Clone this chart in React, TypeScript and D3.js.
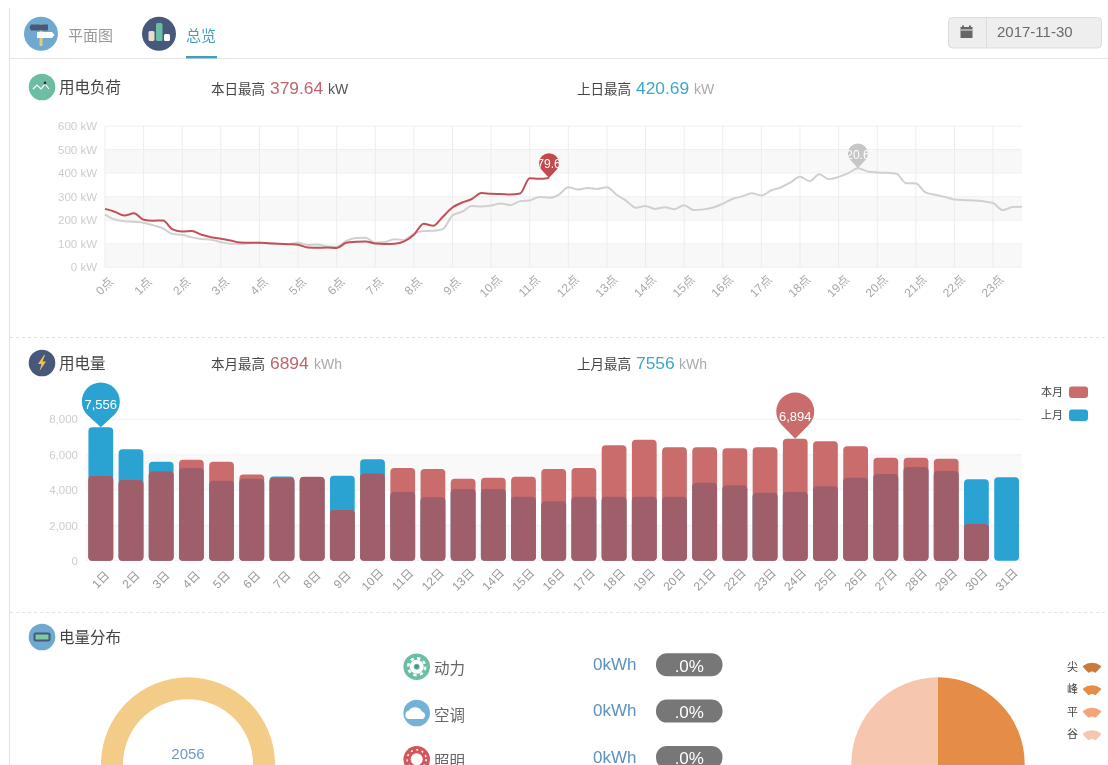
import React, { useEffect, useRef } from 'react'
import * as d3 from 'd3'

const FONT = '"Liberation Sans", "Noto Sans CJK SC", sans-serif'

// load curves, one value per 15 minutes (kW)
const todayLoad = [
  248, 236, 220, 229, 202, 198, 199, 161, 152, 154, 138, 128, 121, 114, 105, 104,
  104, 102, 100, 98, 96, 84, 83, 84, 82, 104, 108, 110, 101, 99, 100, 110,
  138, 185, 176, 215, 254, 275, 290, 315, 312, 311, 309, 313, 378, 376, 379.64,
]
const yesterdayLoad = [
  224, 203, 196, 193, 189, 178, 165, 141, 138, 127, 120, 117, 107, 100, 100, 102,
  104, 100, 99, 99, 104, 95, 97, 88, 86, 112, 124, 126, 104, 107, 119, 116,
  143, 154, 155, 162, 220, 236, 260, 258, 262, 271, 264, 281, 284, 299, 295, 308,
  340, 330, 337, 333, 340, 308, 282, 253, 260, 248, 255, 247, 264, 243, 246, 254,
  270, 290, 301, 314, 305, 326, 339, 360, 384, 366, 395, 374, 384, 400, 420.69, 407,
  403, 401, 397, 357, 356, 318, 308, 299, 288, 285, 284, 280, 273, 243, 256, 257,
]
const loadTicks = [0, 100, 200, 300, 400, 500, 600]

// daily consumption (kWh)
const days = d3.range(1, 32).map(d => `${d}日`)
const thisMonth = [
  4790, 4570, 5060, 5717, 5600, 4870, 4700, 4750, 2870, 4940, 5245, 5190, 4640, 4700, 4755, 5190,
  5245, 6530, 6850, 6415, 6415, 6358, 6415, 6894, 6755, 6472, 5830, 5830, 5774, 2075, 0,
]
const lastMonth = [
  7556, 6300, 5600, 5245, 4530, 4640, 4770, 4740, 4810, 5735, 3890, 3585, 4057, 4057, 3620, 3360,
  3620, 3620, 3620, 3620, 4415, 4264, 3850, 3887, 4208, 4698, 4906, 5300, 5075, 4604, 4717,
]
const barTicks = [0, 2000, 4000, 6000, 8000]

// distribution
const usageNames = ['动力', '空调', '照明']
const usageColors = ['#6bbda3', '#74b1d6', '#d2565a']
const peakNames = ['尖', '峰', '平', '谷']
const peakColors = ['#c97b3c', '#e58d47', '#f4a478', '#f7c6ae']
const peakValues = [0, 50, 0, 50]

const W = 1108
const H = 765

const RED = '#c96c6b'
const BLUE = '#2ba3d2'
const OVERLAP = '#9e5f6a'

const xLoad = d3.scalePoint<number>().domain(d3.range(96)).range([105, 1022])
const yLoad = d3.scaleLinear().domain([0, 600]).range([267.3, 126])
const xBar = d3.scaleBand<string>().domain(days).range([85.7, 1021.7]).paddingInner(0.18).paddingOuter(0.09)
const yBar = d3.scaleLinear().domain([0, 8000]).range([560.7, 419.3])

const loadLine = d3.line<number>()
  .x((_, i) => xLoad(i) as number)
  .y(d => yLoad(d))
  .curve(d3.curveMonotoneX)

// marker shape, tip at 0,0
function pinPath(r: number, d: number) {
  const s = r / d
  const c = Math.sqrt(1 - s * s)
  const tx = r * c
  const ty = -d + r * s
  return `M0,0L${tx},${ty}A${r},${r} 0 1 0 ${-tx},${ty}Z`
}

function Pin({ id, x, y, r, d, fill, label, size, dy }: any) {
  return (
    <g transform={`translate(${x},${y})`}>
      <clipPath id={id}><circle cx={0} cy={-d} r={r} /></clipPath>
      <path d={pinPath(r, d)} fill={fill} />
      <text clipPath={`url(#${id})`} y={-d + dy} textAnchor="middle" fill="#fff" fontSize={size}>{label}</text>
    </g>
  )
}

function Heading({ y, fill, title, children }: any) {
  return (
    <g>
      <circle cx={42} cy={y} r={13.3} fill={fill} />
      {children}
      <text x={59} y={y + 6} fontSize={15.5} fill="#444">{title}</text>
    </g>
  )
}

function Stat({ x, y, label, value, color, unit, unitColor, unitX }: any) {
  return (
    <g>
      <text x={x} y={y} fontSize={13.5} fill="#444">{label}</text>
      <text x={x + 59} y={y} fontSize={17.4} fill={color}>{value}</text>
      <text x={unitX} y={y} fontSize={14} fill={unitColor}>{unit}</text>
    </g>
  )
}

export default function App() {
  const loadAxisY = useRef<SVGGElement>(null)
  const loadAxisX = useRef<SVGGElement>(null)
  const barAxisY = useRef<SVGGElement>(null)
  const barAxisX = useRef<SVGGElement>(null)

  useEffect(() => {
    const hours = xLoad.domain().filter(i => i % 4 === 0)

    d3.select(loadAxisY.current!)
      .call(d3.axisLeft(yLoad).tickValues(loadTicks).tickSize(0).tickPadding(0).tickFormat(d => `${d} kW`) as any)
      .call(g => g.select('.domain').remove())
      .selectAll('text').attr('fill', '#cdcdcd').attr('font-size', 11.5).attr('font-family', FONT)

    d3.select(loadAxisX.current!)
      .call(d3.axisBottom(xLoad).tickValues(hours).tickSize(0).tickFormat(i => `${+i / 4}点`) as any)
      .call(g => g.select('.domain').remove())
      .selectAll('text')
      .attr('fill', '#a8a8a8').attr('font-size', 12).attr('font-family', FONT)
      .attr('text-anchor', 'middle').attr('dy', 4).attr('y', 0)
      .attr('transform', 'translate(-1,19) rotate(-45)')

    d3.select(barAxisY.current!)
      .call(d3.axisLeft(yBar).tickValues(barTicks).tickSize(0).tickPadding(0).tickFormat(d3.format(',') as any) as any)
      .call(g => g.select('.domain').remove())
      .selectAll('text').attr('fill', '#cdcdcd').attr('font-size', 11.5).attr('font-family', FONT)

    d3.select(barAxisX.current!)
      .call(d3.axisBottom(xBar).tickSize(0) as any)
      .call(g => g.select('.domain').remove())
      .selectAll('text')
      .attr('fill', '#999').attr('font-size', 12).attr('font-family', FONT)
      .attr('text-anchor', 'middle').attr('dy', 4).attr('y', 0)
      .attr('transform', 'translate(0,19) rotate(-45)')
  }, [])

  const hourTicks = xLoad.domain().filter(i => i % 4 === 0)
  const barW = xBar.bandwidth()
  const pie = d3.pie<number>().sort(null)(peakValues)
  const pieArc = d3.arc<d3.PieArcDatum<number>>().innerRadius(0).outerRadius(86.7)
  const ringArc = d3.arc<any>().innerRadius(65).outerRadius(87).startAngle(0).endAngle(2 * Math.PI)
  const fan = d3.arc<any>().innerRadius(5).outerRadius(14).startAngle(-0.75).endAngle(0.75).cornerRadius(1)

  const todayPeak = todayLoad.length - 1
  const yesterdayPeak = yesterdayLoad.indexOf(d3.max(yesterdayLoad) as number)

  return (
    <svg width={W} height={H} viewBox={`0 0 ${W} ${H}`} fontFamily={FONT}
      style={{ position: 'absolute', left: 0, top: 0, display: 'block', background: '#fff', filter: 'blur(0.4px)' }}>
      {/* page frame */}
      <line x1={9.5} x2={9.5} y1={8} y2={H} stroke="#e2e2e2" />
      <line x1={10} x2={W} y1={58.5} y2={58.5} stroke="#e4e4e4" />
      <line x1={10} x2={W} y1={337.5} y2={337.5} stroke="#e2e2e2" strokeDasharray="3 3" />
      <line x1={10} x2={W} y1={612.5} y2={612.5} stroke="#e2e2e2" strokeDasharray="3 3" />

      {/* tabs */}
      <circle cx={41} cy={33.7} r={17} fill="#6fa9cf" />
      <rect x={39.5} y={24} width={3} height={22} fill="#e8c77e" />
      <path d="M31,24.5h17v6h-17l-1.5,-3z" fill="#47587a" />
      <path d="M37,32h15l2.5,3l-2.5,3h-15z" fill="#fff" />
      <text x={68} y={41} fontSize={15} fill="#9a9a9a">平面图</text>
      <circle cx={159} cy={33.7} r={17} fill="#47587a" />
      <rect x={148.5} y={31} width={6} height={10} rx={1.5} fill="#e6dfd0" />
      <rect x={156} y={23} width={6.5} height={18} rx={1.5} fill="#6bbda3" />
      <rect x={164} y={34} width={6} height={7} rx={1.5} fill="#fff" />
      <text x={186} y={41} fontSize={15} fill="#3f9fbe">总览</text>
      <rect x={186} y={56} width={31} height={2.4} fill="#3f9fbe" />

      {/* date box */}
      <rect x={948.5} y={17.5} width={153} height={30.5} rx={4} fill="#eeeeee" stroke="#dcdcdc" />
      <line x1={986.5} x2={986.5} y1={18} y2={48} stroke="#dcdcdc" />
      <rect x={960.5} y={27} width={12} height={11} fill="#666" />
      <rect x={962} y={25.5} width={2} height={3} fill="#666" />
      <rect x={969} y={25.5} width={2} height={3} fill="#666" />
      <line x1={960.5} x2={972.5} y1={30} y2={30} stroke="#eee" />
      <text x={997} y={37} fontSize={15} fill="#6a6a6a">2017-11-30</text>

      {/* load chart */}
      <Heading y={87} fill="#6bbda3" title="用电负荷">
        <path d="M33,89l4,-4l4,4l4,-5l4,5" fill="none" stroke="#fff" strokeWidth={1.2} />
        <circle cx={45} cy={83} r={1.4} fill="#333" />
      </Heading>
      <Stat x={211} y={94} label="本日最高" value="379.64" color="#c0656c" unit="kW" unitColor="#555" unitX={328} />
      <Stat x={577} y={94} label="上日最高" value="420.69" color="#3fa7c9" unit="kW" unitColor="#aaa" unitX={694} />

      {d3.pairs(loadTicks).filter((_, i) => i % 2 === 0).map(([a, b]) => (
        <rect key={a} x={105} width={917} y={yLoad(b)} height={yLoad(a) - yLoad(b)} fill="#f8f8f8" />
      ))}
      {loadTicks.map(t => (
        <line key={t} x1={105} x2={1022} y1={yLoad(t)} y2={yLoad(t)} stroke="#f0f0f0" />
      ))}
      {hourTicks.map(i => (
        <line key={i} x1={xLoad(i)} x2={xLoad(i)} y1={126} y2={267.3} stroke="#ececec" />
      ))}
      <g ref={loadAxisY} transform="translate(97,0)" />
      <g ref={loadAxisX} transform="translate(0,267.3)" />
      <path d={loadLine(yesterdayLoad) as string} fill="none" stroke="#d0d0d0" strokeWidth={2} />
      <path d={loadLine(todayLoad) as string} fill="none" stroke="#c2505a" strokeWidth={2} />
      <Pin id="pin-today" x={xLoad(todayPeak)} y={yLoad(todayLoad[todayPeak])} r={10} d={14.7} fill="#c24a4e" label="379.64" size={12} dy={5} />
      <Pin id="pin-yesterday" x={xLoad(yesterdayPeak)} y={yLoad(yesterdayLoad[yesterdayPeak])} r={10} d={14.7} fill="#c6c6c6" label="420.69" size={12} dy={5} />

      {/* consumption chart */}
      <Heading y={363} fill="#47587a" title="用电量">
        <path d="M44,355l-6,9h3.5l-2,7l6.5,-9.5h-3.5l2.5,-6.5z" fill="#f2c14e" />
      </Heading>
      <Stat x={211} y={369} label="本月最高" value="6894" color="#c0656c" unit="kWh" unitColor="#aaa" unitX={314} />
      <Stat x={577} y={369} label="上月最高" value="7556" color="#3fa7c9" unit="kWh" unitColor="#aaa" unitX={679} />

      {[[4000, 6000], [0, 2000]].map(([a, b]) => (
        <rect key={a} x={85.7} width={936} y={yBar(b)} height={yBar(a) - yBar(b)} fill="#f9f9f9" />
      ))}
      {barTicks.map(t => (
        <line key={t} x1={85.7} x2={1021.7} y1={yBar(t)} y2={yBar(t)} stroke="#f1f1f1" />
      ))}
      <g ref={barAxisY} transform="translate(78,0)" />
      <g ref={barAxisX} transform="translate(0,560.7)" />
      {days.map((day, i) => (
        <g key={day}>
          <rect x={xBar(day)} y={yBar(lastMonth[i])} width={barW} height={yBar(0) - yBar(lastMonth[i])} rx={4} fill={BLUE} />
          {thisMonth[i] > 0 && (
            <rect x={xBar(day)} y={yBar(thisMonth[i])} width={barW} height={yBar(0) - yBar(thisMonth[i])} rx={4} fill={RED} />
          )}
          {thisMonth[i] > 0 && (
            <rect x={xBar(day)} y={yBar(Math.min(thisMonth[i], lastMonth[i]))} width={barW}
              height={yBar(0) - yBar(Math.min(thisMonth[i], lastMonth[i]))} rx={4} fill={OVERLAP} />
          )}
        </g>
      ))}
      <Pin id="pin-last" x={(xBar('1日') as number) + barW / 2} y={yBar(7556)} r={19} d={25.7} fill={BLUE} label="7,556" size={13} dy={8} />
      <Pin id="pin-this" x={(xBar('24日') as number) + barW / 2} y={yBar(6894)} r={19} d={27.3} fill={RED} label="6,894" size={13} dy={9} />

      {['本月', '上月'].map((name, i) => (
        <g key={name}>
          <text x={1041} y={396 + i * 23} fontSize={11} fill="#444">{name}</text>
          <rect x={1069} y={386.5 + i * 23} width={19} height={11.5} rx={3} fill={i === 0 ? RED : BLUE} />
        </g>
      ))}

      {/* distribution */}
      <Heading y={637} fill="#6fa9cf" title="电量分布">
        <rect x={33.5} y={632.5} width={17} height={9} rx={2} fill="#47587a" />
        <rect x={35.5} y={634.5} width={13} height={5} fill="#7fc9a4" />
      </Heading>

      <path d={ringArc({}) as string} transform="translate(188,764.3)" fill="#f3cd88" />
      <text x={188} y={759} textAnchor="middle" fontSize={15} fill="#6b9bc9">2056</text>

      {usageNames.map((name, i) => {
        const cy = 666.7 + i * 46.3
        return (
          <g key={name}>
            <circle cx={416.7} cy={cy} r={13.3} fill={usageColors[i]} />
            {i === 0 && (
              <g fill="none" stroke="#fff">
                <circle cx={416.7} cy={cy} r={8.5} strokeWidth={2.5} strokeDasharray="3.3 3.4" />
                <circle cx={416.7} cy={cy} r={5} strokeWidth={4} />
                <circle cx={416.7} cy={cy} r={2} fill="#4f8f94" stroke="none" />
              </g>
            )}
            {i === 1 && <path d={`M408,${cy + 6}a4.5,4.5 0 0 1 1,-8.5a7.5,7.5 0 0 1 13,1a4,4 0 0 1 1,7.5z`} fill="#fff" />}
            {i === 2 && (
              <g>
                <circle cx={416.7} cy={cy} r={6} fill="#fff" />
                <circle cx={416.7} cy={cy} r={9.5} fill="none" stroke="#fff" strokeWidth={1.6} strokeDasharray="2 3.5" />
              </g>
            )}
            <text x={434} y={cy + 7.5} fontSize={15.5} fill="#666">{name}</text>
            <text x={593} y={cy + 3.3} fontSize={17} fill="#5b90c0">0kWh</text>
            <rect x={656} y={cy - 13.4} width={66.5} height={23} rx={11} fill="#777" />
            <text x={689.3} y={cy + 5} textAnchor="middle" fontSize={17} fill="#fff">.0%</text>
          </g>
        )
      })}

      <g transform="translate(938,764)">
        {pie.map((slice, i) => slice.value > 0 && (
          <path key={i} d={pieArc(slice) as string} fill={peakColors[i]} />
        ))}
      </g>
      {peakNames.map((name, i) => {
        const cy = 666.5 + i * 22.5
        return (
          <g key={name}>
            <text x={1067} y={cy + 4} fontSize={11} fill="#444">{name}</text>
            <path d={fan({}) as string} transform={`translate(1092,${cy + 10.2})`} fill={peakColors[i]} />
          </g>
        )
      })}
    </svg>
  )
}
